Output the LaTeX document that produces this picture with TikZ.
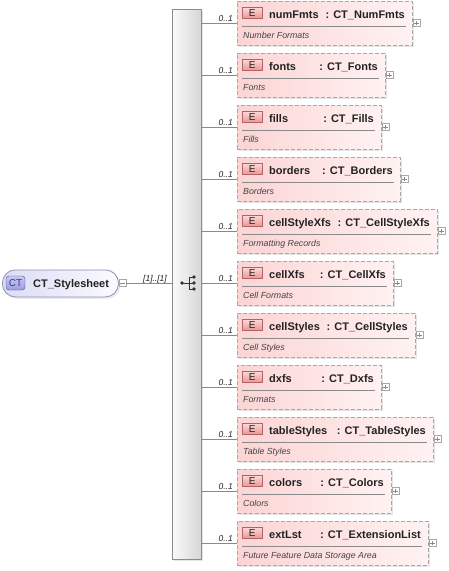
\documentclass[tikz,border=0pt]{standalone}
\usepackage{fontspec}
\setmainfont{Liberation Sans}
\usetikzlibrary{shadows}
\definecolor{pinkA}{HTML}{FCD4D4}
\definecolor{pinkB}{HTML}{FFF2F2}
\definecolor{elborder}{HTML}{A8A8A8}
\definecolor{badgeTop}{HTML}{FCDADA}
\definecolor{badgeBot}{HTML}{EC9494}
\definecolor{badgeBorder}{HTML}{B06464}
\definecolor{lineGray}{HTML}{8A8A8A}
\definecolor{txt}{HTML}{222222}
\definecolor{lavA}{HTML}{DCDCF6}
\definecolor{lavB}{HTML}{FAFAFF}
\definecolor{lavBorder}{HTML}{9090B4}
\definecolor{ctTop}{HTML}{C8C8F4}
\definecolor{ctBot}{HTML}{9C9CE4}
\definecolor{ctBorder}{HTML}{4C4C8C}
\tikzset{
  elbox/.style={draw=elborder, dashed, dash pattern=on 4pt off 2pt, line width=0.8pt,
    left color=pinkA, right color=pinkB, minimum height=44pt, inner sep=0pt,
    drop shadow={shadow xshift=2pt, shadow yshift=-2pt, fill=black!20, opacity=0.5}},
  ebadge/.style={draw=badgeBorder, top color=badgeTop, bottom color=badgeBot,
    minimum width=20pt, minimum height=11pt, inner sep=0pt, text=txt,
    font=\fontsize{10}{10}\selectfont},
  nametext/.style={anchor=base west, inner sep=0pt, text=txt,
    font=\bfseries\fontsize{11}{12}\selectfont},
  typetext/.style={anchor=base east, inner sep=0pt, text=txt,
    font=\bfseries\fontsize{11}{12}\selectfont},
  desctext/.style={anchor=base west, inner sep=0pt, text=txt!85,
    font=\itshape\fontsize{8.8}{10}\selectfont},
  card/.style={anchor=base east, inner sep=0pt, text=txt,
    font=\itshape\fontsize{8.5}{10}\selectfont},
  plusbox/.style={draw=elborder, fill=white, minimum width=7pt, minimum height=7pt,
    inner sep=0pt, line width=0.5pt},
  pm/.style={draw=lineGray, line width=0.5pt},
  sepline/.style={draw=lineGray, line width=0.6pt},
  conn/.style={draw=lineGray, line width=0.7pt},
  barbox/.style={draw=black!45, left color=black!2, right color=black!16,
    inner sep=0pt, line width=0.7pt,
    drop shadow={shadow xshift=2pt, shadow yshift=-2pt, fill=black!20, opacity=0.5}},
  rootbox/.style={draw=lavBorder, left color=lavA, right color=lavB,
    rounded corners=13pt, inner sep=0pt, line width=0.8pt,
    drop shadow={shadow xshift=2pt, shadow yshift=-2pt, fill=black!15, opacity=0.5}},
  ctbadge/.style={draw=ctBorder, top color=ctTop, bottom color=ctBot,
    rounded corners=3pt, minimum width=19pt, minimum height=14pt, inner sep=0pt,
    text=ctBorder!80!black, font=\fontsize{10}{10}\selectfont},
  seqdot/.style={fill=black!80}
}
% #1 id, #2 line y, #3 right x, #4 name, #5 type, #6 description
\newcommand{\xelem}[6]{%
  \node[elbox, minimum width={#3pt-237pt}, anchor=north west] (b#1) at (237,#2-22) {};
  \node[ebadge, anchor=north west] (e#1) at (242,#2-16) {E};
  \node[nametext] (n#1) at (269,#2-5) {#4};
  \node[typetext] (t#1) at (#3-7,#2-5) {: #5};
  \draw[sepline] (242,#2+3) -- (#3-6,#2+3);
  \node[desctext] (d#1) at (243,#2+15) {#6};
  \node[plusbox] (p#1) at (#3+4.5,#2) {};
  \draw[pm] ([xshift=1.5pt]p#1.west) -- ([xshift=-1.5pt]p#1.east);
  \draw[pm] ([yshift=-1.5pt]p#1.north) -- ([yshift=1.5pt]p#1.south);
  \draw[conn] (seq.east |- b#1.west) -- (b#1.west);
  \node[card] (c#1) at (233,#2-2) {0..1};
}
\begin{document}
\begin{tikzpicture}[x=1pt,y=-1pt]
\useasboundingbox[fill=white] (0,0) rectangle (448,571);
% sequence bar
\node[barbox, minimum width=29pt, minimum height=550pt, anchor=north west] (seq) at (172,9) {};
% sequence icon
\draw[black!80, line width=0.7pt] (182,283) -- (189,283)
  (189,277) -- (189,289)
  (189,277) -- (194,277) (189,283) -- (194,283) (189,289) -- (194,289);
\foreach \yy in {277,283,289} \fill[seqdot] (194,\yy) circle (1.9pt);
\fill[seqdot] (182,283) circle (1.9pt);
% root
\node[rootbox, minimum width=116pt, minimum height=27pt, anchor=north west] (root) at (2,269.5) {};
\node[ctbadge] (ctb) at (15.5,283) {CT};
\node[nametext] (rootname) at (33,287) {CT\_Stylesheet};
\node[plusbox] (minus) at (122.5,283) {};
\draw[pm] ([xshift=1.5pt]minus.west) -- ([xshift=-1.5pt]minus.east);
\draw[conn] (minus.east) -- (minus.east -| seq.west);
\node[card] (rootcard) at (167,281) {[1]..[1]};
% elements
\xelem{1}{23}{412}{numFmts}{CT\_NumFmts}{Number Formats}
\xelem{2}{75}{385}{fonts}{CT\_Fonts}{Fonts}
\xelem{3}{127}{381}{fills}{CT\_Fills}{Fills}
\xelem{4}{179}{400}{borders}{CT\_Borders}{Borders}
\xelem{5}{231}{437}{cellStyleXfs}{CT\_CellStyleXfs}{Formatting Records}
\xelem{6}{283}{393}{cellXfs}{CT\_CellXfs}{Cell Formats}
\xelem{7}{335}{415}{cellStyles}{CT\_CellStyles}{Cell Styles}
\xelem{8}{387}{381}{dxfs}{CT\_Dxfs}{Formats}
\xelem{9}{439}{433}{tableStyles}{CT\_TableStyles}{Table Styles}
\xelem{10}{491}{391}{colors}{CT\_Colors}{Colors}
\xelem{11}{543}{428}{extLst}{CT\_ExtensionList}{Future Feature Data Storage Area}
\end{tikzpicture}
\end{document}
